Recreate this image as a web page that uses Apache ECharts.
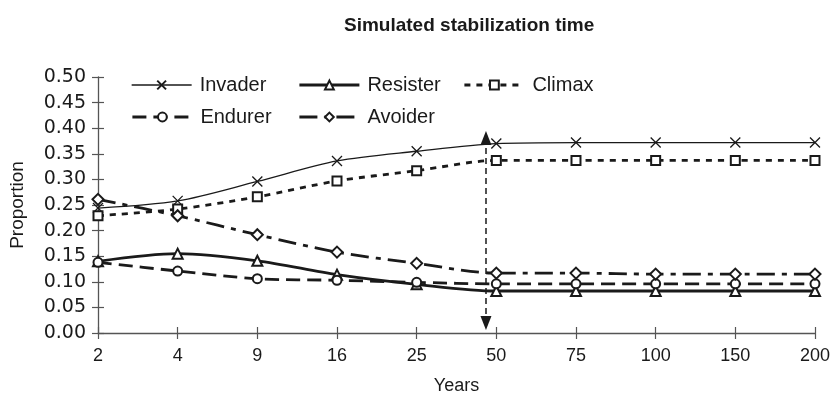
<!DOCTYPE html>
<html>
<head>
<meta charset="utf-8">
<script src="https://cdn.jsdelivr.net/npm/echarts@6/dist/echarts.min.js"></script>
<style>html,body{margin:0;padding:0;background:#fff}#c{width:833px;height:400px}</style>
</head>
<body>
<div id="c"></div>
<script>
const years = ['2','4','9','16','25','50','75','100','150','200'];
const invader  = [0.244,0.258,0.296,0.336,0.355,0.370,0.372,0.372,0.372,0.372];
const resister = [0.140,0.155,0.141,0.114,0.095,0.082,0.082,0.082,0.082,0.082];
const climax   = [0.229,0.242,0.266,0.297,0.317,0.337,0.337,0.337,0.337,0.337];
const endurer  = [0.138,0.121,0.106,0.103,0.099,0.096,0.096,0.096,0.096,0.096];
const avoider  = [0.261,0.229,0.192,0.158,0.136,0.117,0.117,0.115,0.115,0.115];
const stabilizationPos = 4.87;      // position between "25" and "50" (category index)
const arrowRange = [0.381, 0.0195]; // centres of the top and bottom arrow heads
const yMin = 0, yMax = 0.5, yStep = 0.05;

const ink = '#1a1a1a';
const axisColor = '#555';
const xSym = 'path://M0,0L10,10M10,0L0,10';

const styles = {
  Invader:  {width: 1.3, type: 'solid'},
  Resister: {width: 2.8, type: 'solid'},
  Climax:   {width: 2.8, type: [6, 6]},
  Endurer:  {width: 2.8, type: [14, 7]},
  Avoider:  {width: 2.8, type: [18, 7, 5, 7]}
};

function mkSeries(name, data, symbol, symbolSize, fill) {
  return {
    name: name, type: 'line', data: data, xAxisIndex: 0, yAxisIndex: 0,
    smooth: 0.3, symbol: symbol, symbolSize: symbolSize, showSymbol: true,
    lineStyle: Object.assign({color: ink}, styles[name]),
    itemStyle: {color: fill, borderColor: ink, borderWidth: 1.3},
    emphasis: {disabled: true}, animation: false
  };
}

function mkLegend(name, left, top) {
  return {
    data: [name], left: left, top: top, padding: 0,
    itemWidth: 60, itemHeight: 11, itemGap: 0,
    lineStyle: {color: ink, width: styles[name].width, type: styles[name].type},
    textStyle: {fontFamily: 'Liberation Sans', fontSize: 20, color: ink, padding: [0,0,0,3]},
    selectedMode: false
  };
}

const chart = echarts.init(document.getElementById('c'), null, {renderer: 'canvas'});
chart.setOption({
  animation: false,
  backgroundColor: '#fff',
  title: {
    text: 'Simulated stabilization time', left: 339, top: 11,
    textStyle: {fontFamily: 'Liberation Sans', fontSize: 19, fontWeight: 'bold', color: ink}
  },
  legend: [
    mkLegend('Invader', 131, 75),
    mkLegend('Resister', 298, 75),
    mkLegend('Climax', 463, 75),
    mkLegend('Endurer', 131, 107),
    mkLegend('Avoider', 298, 107)
  ],
  grid: {left: 98, right: 16, top: 77, bottom: 63, containLabel: false},
  xAxis: [
    {
      type: 'category', data: years, boundaryGap: false, position: 'bottom',
      axisLine: {lineStyle: {color: axisColor, width: 1.3}},
      axisTick: {show: true, length: 6, lineStyle: {color: axisColor, width: 1.2}},
      axisLabel: {margin: 14, fontFamily: 'Liberation Sans', fontSize: 18, color: ink},
      name: 'Years', nameLocation: 'middle', nameGap: 44,
      nameTextStyle: {fontFamily: 'Liberation Sans', fontSize: 18, color: ink},
      splitLine: {show: false}
    },
    {
      type: 'category', data: years, boundaryGap: false, position: 'bottom',
      axisLine: {show: false},
      axisTick: {show: true, inside: true, length: 6, lineStyle: {color: axisColor, width: 1.2}},
      axisLabel: {show: false}, splitLine: {show: false}
    },
    {
      type: 'value', min: 0, max: years.length - 1, show: false
    }
  ],
  yAxis: [
    {
      type: 'value', min: yMin, max: yMax, interval: yStep, position: 'left',
      axisLine: {show: true, lineStyle: {color: axisColor, width: 1.3}},
      axisTick: {show: true, length: 6, lineStyle: {color: axisColor, width: 1.2}},
      axisLabel: {margin: 12, fontFamily: 'DejaVu Sans', fontSize: 19, color: ink,
        formatter: v => v.toFixed(2)},
      splitLine: {show: false},
      name: 'Proportion', nameLocation: 'middle', nameGap: 71,
      nameTextStyle: {fontFamily: 'Liberation Sans', fontSize: 19, color: ink}
    },
    {
      type: 'value', min: yMin, max: yMax, interval: yStep, position: 'left',
      axisLine: {show: false},
      axisTick: {show: true, inside: true, length: 6, lineStyle: {color: axisColor, width: 1.2}},
      axisLabel: {show: false}, splitLine: {show: false}
    }
  ],
  series: [
    mkSeries('Invader', invader, xSym, 10, 'none'),
    mkSeries('Resister', resister, 'emptyTriangle', 10, ink),
    mkSeries('Climax', climax, 'emptyRect', 9, ink),
    mkSeries('Endurer', endurer, 'emptyCircle', 9, ink),
    mkSeries('Avoider', avoider, 'emptyDiamond', 11, ink),
    {
      name: 'stabilization', type: 'line', xAxisIndex: 2, yAxisIndex: 0, data: [],
      silent: true, animation: false,
      markLine: {
        silent: true, animation: false,
        symbol: ['triangle', 'triangle'], symbolSize: [11, 14],
        lineStyle: {color: ink, width: 1.5, type: [6, 4]},
        label: {show: false},
        data: [[{coord: [stabilizationPos, arrowRange[0]]}, {coord: [stabilizationPos, arrowRange[1]]}]]
      }
    }
  ]
});
</script>
</body>
</html>
